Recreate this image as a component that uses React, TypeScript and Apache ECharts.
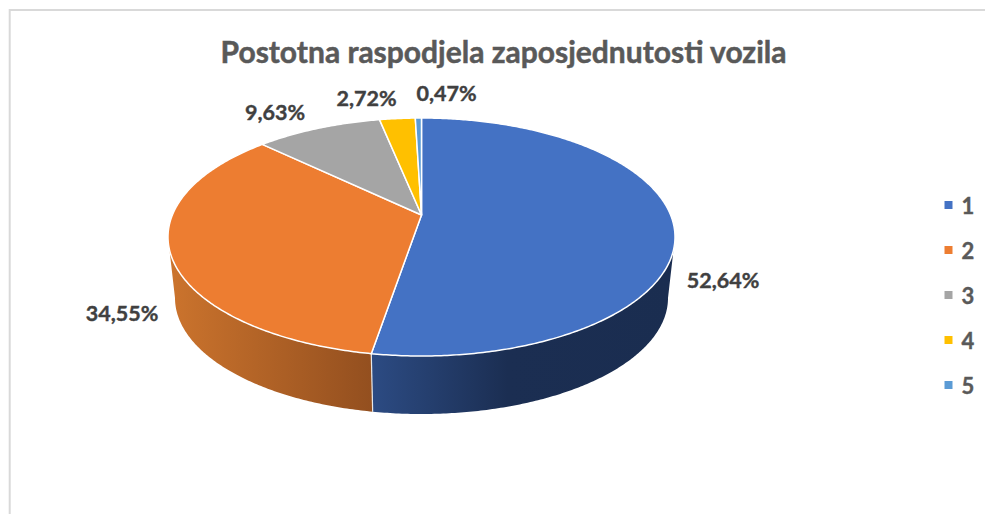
import React, { useEffect, useRef } from "react";
import * as echarts from "echarts";

const titleText = "Postotna raspodjela zaposjednutosti vozila";
const categories = ["1", "2", "3", "4", "5"];
const percentages = [52.64, 34.55, 9.63, 2.72, 0.47];
const sliceColors = ["#4472C4", "#ED7D31", "#A5A5A5", "#FFC000", "#5B9BD5"];
const sideStops = [
  [[0, "#2C4B83"], [0.45, "#1B2E52"], [1, "#1A2D50"]],
  [[0, "#CC742D"], [1, "#934F1F"]],
  [[0, "#6A6A6A"], [1, "#6A6A6A"]],
  [[0, "#A37C00"], [1, "#A37C00"]],
  [[0, "#3A6A96"], [1, "#3A6A96"]],
];
const labelCentres = [
  [723, 279.5],
  [122, 313],
  [275, 111.5],
  [366.5, 98],
  [446.5, 92.5],
];

// Perspective ellipse of the pie's top and bottom faces
const TOP = { cx: 421.5, cy: 237, rx: 253.5, ry: 119 };
const BOTTOM = { cx: 421.5, cy: 298, rx: 246.5, ry: 116 };
const SHIFT = -0.185; // where the pie's centre falls inside the ellipse
const SCALE = Math.sqrt(1 - SHIFT * SHIFT);
const FONT = "Lato";

function project(theta: number, r: number, e: typeof TOP): number[] {
  const u = r * Math.sin(theta);
  const v = -r * Math.cos(theta);
  const den = 1 + SHIFT * v;
  return [e.cx + (e.rx * u * SCALE) / den, e.cy + (e.ry * (v + SHIFT)) / den];
}

function range(a: number, b: number): number[] {
  const out: number[] = [];
  const n = Math.max(2, Math.ceil((b - a) / 0.01));
  for (let i = 0; i <= n; i++) out.push(a + ((b - a) * i) / n);
  return out;
}

const total = percentages.reduce((s, v) => s + v, 0);
const FRONT_A = Math.acos(SHIFT);
const FRONT_B = 2 * Math.PI - FRONT_A;

function makeRenderItem(index: number) {
  return () => {
    const before = percentages.slice(0, index).reduce((s, v) => s + v, 0);
    const a = (before / total) * 2 * Math.PI;
    const b = ((before + percentages[index]) / total) * 2 * Math.PI;
    const children: any[] = [];

    const sa = Math.max(a, FRONT_A);
    const sb = Math.min(b, FRONT_B);
    if (sb > sa) {
      const ts = range(sa, sb);
      const points = [
        ...ts.map((t) => project(t, 1, TOP)),
        ...ts.slice().reverse().map((t) => project(t, 1, BOTTOM)),
      ];
      const xs = points.map((p) => p[0]);
      const x0 = Math.min(...xs);
      const x1 = Math.max(...xs);
      children.push({
        type: "polygon",
        z2: 1,
        shape: { points },
        style: {
          fill: new echarts.graphic.LinearGradient(
            x0, 0, x1, 0,
            sideStops[index].map((s) => ({ offset: s[0] as number, color: s[1] as string })),
            true
          ),
          stroke: "none",
        },
      });
      // the white seam between neighbouring sides
      if (index === 0) {
        children.push({
          type: "line",
          z2: 2,
          shape: {
            x1: project(b, 1, TOP)[0], y1: project(b, 1, TOP)[1],
            x2: project(b, 1, BOTTOM)[0], y2: project(b, 1, BOTTOM)[1],
          },
          style: { stroke: "#E8E8E8", lineWidth: 1.2 },
        });
      }
    }

    children.push({
      type: "polygon",
      z2: 3,
      shape: {
        points: [project(0, 0, TOP), ...range(a, b).map((t) => project(t, 1, TOP))],
      },
      style: { fill: sliceColors[index], stroke: "#FFFFFF", lineWidth: 1.5, lineJoin: "round" },
    });

    children.push({
      type: "text",
      z2: 4,
      x: labelCentres[index][0],
      y: labelCentres[index][1],
      style: {
        text: percentages[index].toFixed(2).replace(".", ",") + "%",
        fill: "#404040",
        font: `bold 21.5px ${FONT}`,
        align: "center",
        verticalAlign: "middle",
        stroke: "#404040",
        lineWidth: 0.4,
      },
    });
    return { type: "group", children };
  };
}

export default function App() {
  const ref = useRef<HTMLDivElement>(null);
  useEffect(() => {
    const chart = echarts.init(ref.current!, null, { renderer: "svg" });
    chart.setOption({
      animation: false,
      backgroundColor: "#FFFFFF",
      title: {
        text: titleText,
        left: 498.5,
        top: 31,
        textAlign: "center",
        textStyle: {
          fontFamily: FONT,
          fontSize: 30,
          fontWeight: "bold",
          color: "#595959",
          textBorderColor: "#595959",
          textBorderWidth: 0.5,
        },
      },
      legend: {
        orient: "vertical",
        left: 939.5,
        top: 188,
        icon: "rect",
        itemWidth: 8,
        itemHeight: 8,
        itemGap: 21,
        selectedMode: false,
        data: categories,
        textStyle: {
          fontFamily: FONT,
          fontSize: 22,
          fontWeight: "bold",
          color: "#595959",
          padding: [0, 0, 0, 4],
          lineHeight: 24,
          textBorderColor: "#595959",
          textBorderWidth: 0.4,
        },
      },
      graphic: [
        {
          type: "polyline",
          silent: true,
          shape: { points: [[9.7, 514], [9.7, 10], [985, 10]] },
          style: { stroke: "#D9D9D9", lineWidth: 2, fill: "none" },
        },
      ],
      series: categories.map((name, i) => ({
        type: "custom",
        name,
        coordinateSystem: "none",
        silent: true,
        itemStyle: { color: sliceColors[i] },
        data: [[percentages[i]]],
        renderItem: makeRenderItem(i),
      })),
    });
    return () => chart.dispose();
  }, []);
  return <div ref={ref} style={{ position: "absolute", left: 0, top: 0, width: 985, height: 514 }} />;
}
